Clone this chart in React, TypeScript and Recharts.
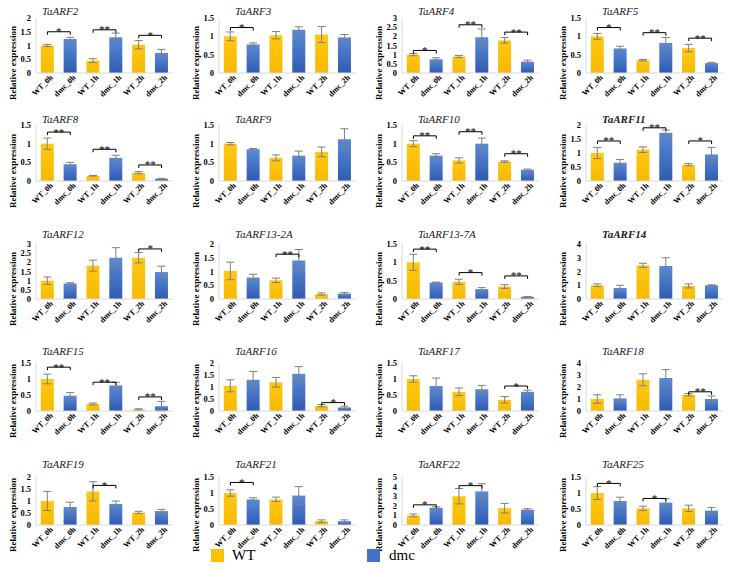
import React from "react";
import { BarChart, Bar, XAxis, YAxis, Cell, ErrorBar, ReferenceLine } from "recharts";

const categories = ["WT_0h", "dmc_0h", "WT_1h", "dmc_1h", "WT_2h", "dmc_2h"];
const seriesNames = ["WT", "dmc"];

const genes = [
  "TaARF2", "TaARF3", "TaARF4", "TaARF5",
  "TaARF8", "TaARF9", "TaARF10", "TaARF11",
  "TaARF12", "TaARF13-2A", "TaARF13-7A", "TaARF14",
  "TaARF15", "TaARF16", "TaARF17", "TaARF18",
  "TaARF19", "TaARF21", "TaARF22", "TaARF25",
];
const boldTitles = ["TaARF11", "TaARF14"];

const yTicks = [
  [0, 0.5, 1, 1.5, 2], [0, 0.5, 1, 1.5], [0, 0.5, 1, 1.5, 2, 2.5, 3], [0, 0.5, 1, 1.5],
  [0, 0.5, 1, 1.5], [0, 0.5, 1, 1.5], [0, 0.5, 1, 1.5], [0, 0.5, 1, 1.5, 2],
  [0, 0.5, 1, 1.5, 2, 2.5, 3], [0, 0.5, 1, 1.5, 2], [0, 0.5, 1, 1.5], [0, 1, 2, 3, 4],
  [0, 0.5, 1, 1.5], [0, 0.5, 1, 1.5, 2], [0, 0.5, 1, 1.5], [0, 1, 2, 3, 4],
  [0, 0.5, 1, 1.5, 2], [0, 0.5, 1, 1.5], [0, 1, 2, 3, 4, 5], [0, 0.5, 1, 1.5],
];

const means = [
  [1.0, 1.24, 0.45, 1.3, 1.03, 0.73],
  [1.0, 0.78, 1.03, 1.18, 1.05, 0.97],
  [1.0, 0.75, 0.9, 1.95, 1.78, 0.62],
  [1.0, 0.67, 0.35, 0.82, 0.68, 0.27],
  [1.0, 0.45, 0.14, 0.62, 0.22, 0.06],
  [1.0, 0.85, 0.62, 0.68, 0.78, 1.12],
  [1.0, 0.68, 0.55, 1.0, 0.52, 0.3],
  [1.0, 0.65, 1.12, 1.72, 0.58, 0.95],
  [1.0, 0.85, 1.82, 2.25, 2.25, 1.47],
  [1.02, 0.78, 0.68, 1.4, 0.18, 0.2],
  [1.0, 0.45, 0.47, 0.27, 0.34, 0.06],
  [1.0, 0.8, 2.45, 2.4, 0.95, 1.0],
  [1.0, 0.48, 0.22, 0.8, 0.05, 0.15],
  [1.05, 1.3, 1.2, 1.55, 0.22, 0.15],
  [1.0, 0.78, 0.6, 0.68, 0.35, 0.6],
  [1.0, 1.05, 2.6, 2.75, 1.35, 1.0],
  [1.0, 0.75, 1.4, 0.88, 0.52, 0.58],
  [1.0, 0.8, 0.8, 0.92, 0.12, 0.12],
  [1.0, 1.8, 3.0, 3.5, 1.75, 1.6],
  [1.0, 0.75, 0.52, 0.7, 0.52, 0.45],
];

const errors = [
  [0.04, 0.06, 0.07, 0.15, 0.15, 0.13],
  [0.12, 0.04, 0.1, 0.08, 0.22, 0.08],
  [0.06, 0.08, 0.06, 0.45, 0.15, 0.08],
  [0.08, 0.06, 0.02, 0.15, 0.1, 0.02],
  [0.15, 0.05, 0.01, 0.07, 0.03, 0.01],
  [0.03, 0.02, 0.08, 0.12, 0.13, 0.28],
  [0.08, 0.05, 0.07, 0.15, 0.02, 0.02],
  [0.2, 0.12, 0.1, 0.1, 0.04, 0.25],
  [0.2, 0.04, 0.3, 0.55, 0.28, 0.32],
  [0.32, 0.12, 0.08, 0.4, 0.04, 0.04],
  [0.22, 0.01, 0.07, 0.04, 0.05, 0.01],
  [0.1, 0.2, 0.15, 0.6, 0.15, 0.03],
  [0.15, 0.1, 0.03, 0.1, 0.02, 0.15],
  [0.25, 0.35, 0.2, 0.3, 0.05, 0.05],
  [0.1, 0.25, 0.12, 0.12, 0.1, 0.05],
  [0.35, 0.3, 0.5, 0.7, 0.1, 0.25],
  [0.4, 0.2, 0.4, 0.12, 0.05, 0.07],
  [0.1, 0.05, 0.07, 0.28, 0.04, 0.04],
  [0.15, 0.1, 0.8, 0.8, 0.5, 0.1],
  [0.2, 0.12, 0.07, 0.12, 0.1, 0.1],
];

// [time point (0h, 1h, 2h), bracket height, marker]
const brackets: [number, number, string][][] = [
  [[0, 1.5, "*"], [1, 1.57, "**"], [2, 1.37, "*"]],
  [[0, 1.24, "*"]],
  [[0, 1.23, "*"], [1, 2.63, "**"], [2, 2.23, "**"]],
  [[0, 1.24, "*"], [1, 1.1, "**"], [2, 0.95, "**"]],
  [[0, 1.31, "**"], [1, 0.85, "**"], [2, 0.43, "**"]],
  [],
  [[0, 1.21, "**"], [1, 1.32, "**"], [2, 0.73, "**"]],
  [[0, 1.43, "**"], [1, 1.9, "**"], [2, 1.43, "*"]],
  [[2, 2.73, "*"]],
  [[1, 1.63, "**"]],
  [[0, 1.36, "**"], [1, 0.72, "*"], [2, 0.63, "**"]],
  [],
  [[0, 1.37, "**"], [1, 0.9, "**"], [2, 0.44, "**"]],
  [[2, 0.35, "*"]],
  [[2, 0.78, "*"]],
  [[2, 1.6, "**"]],
  [[1, 1.65, "*"]],
  [[0, 1.33, "*"]],
  [[0, 2.1, "*"], [1, 4.1, "*"]],
  [[0, 1.3, "*"], [1, 0.83, "*"]],
];

const SERIF = "Liberation Serif, Times New Roman, serif";
const COL_LEFT = [0, 183, 366, 550];
const ROW_TOP = [2, 110, 225, 342, 455];
const ROW_MARGIN_TOP = [16, 15, 19, 21, 22];
const ROW_PLOT_H = [55, 56, 55, 48, 48];
const X_AXIS_H = 30;
const BORDER = "#d9d9d9";

const XTick = ({ x, y, payload }: any) => (
  <g transform={`translate(${x + 4},${y})`}>
    <text
      transform="rotate(-45)"
      textAnchor="end"
      dy="0.35em"
      fontSize={8}
      fontWeight="bold"
      fontFamily={SERIF}
      fill="#000"
    >
      {payload.value}
    </text>
  </g>
);

const YLabel = ({ viewBox }: any) => {
  const cx = viewBox.x + 5;
  const cy = viewBox.y + viewBox.height - 10;
  return (
    <text
      x={cx}
      y={cy}
      transform={`rotate(-90 ${cx} ${cy})`}
      textAnchor="middle"
      dominantBaseline="central"
      fontSize={9}
      fontWeight="bold"
      fontFamily={SERIF}
      fill="#000"
    >
      Relative expression
    </text>
  );
};

const bracketShape = (label: string) => (p: any) => {
  const { x1, y1, x2, y2 } = p;
  return (
    <g>
      <path d={`M${x1},${y1 + 3}V${y1}H${x2}V${y2 + 3}`} stroke="#000" strokeWidth={1} fill="none" />
      <text x={(x1 + x2) / 2} y={y1 + 3.5} textAnchor="middle" fontSize={11} fontFamily={SERIF} fill="#000">
        {label}
      </text>
    </g>
  );
};

function Panel({ g }: { g: number }) {
  const row = Math.floor(g / 4);
  const col = g % 4;
  const ticks = yTicks[g];
  const yMax = ticks[ticks.length - 1];
  const data = categories.map((c, i) => ({ cat: c, v: means[g][i], e: errors[g][i] }));
  const mt = ROW_MARGIN_TOP[row];
  const h = mt + ROW_PLOT_H[row] + X_AXIS_H;
  const gid = `p${g}`;

  return (
    <div style={{ position: "absolute", left: COL_LEFT[col], top: ROW_TOP[row], width: 183, height: h }}>
      <div
        style={{
          position: "absolute",
          left: col === 0 ? 42 : 52,
          top: 3,
          fontFamily: SERIF,
          fontStyle: "italic",
          fontWeight: boldTitles.includes(genes[g]) ? "bold" : "normal",
          fontSize: 11,
          lineHeight: "13px",
          color: "#222",
          whiteSpace: "nowrap",
        }}
      >
        {genes[g]}
      </div>
      <BarChart
        width={183}
        height={h}
        data={data}
        margin={{ top: mt, right: 10, bottom: 0, left: 8 }}
        barCategoryGap="21%"
        style={{ overflow: "visible" }}
      >
        <defs>
          <linearGradient id={`${gid}-WT`} x1="0" y1="0" x2="0" y2="1">
            <stop offset="0%" stopColor="#ffc814" />
            <stop offset="100%" stopColor="#f7b900" />
          </linearGradient>
          <linearGradient id={`${gid}-dmc`} x1="0" y1="0" x2="0" y2="1">
            <stop offset="0%" stopColor="#5a8ad8" />
            <stop offset="100%" stopColor="#2f5bb0" />
          </linearGradient>
        </defs>
        <XAxis
          dataKey="cat"
          height={X_AXIS_H}
          tickSize={0}
          tickMargin={3}
          axisLine={{ stroke: BORDER }}
          tickLine={false}
          tick={<XTick />}
          interval={0}
        />
        <XAxis xAxisId="top" dataKey="cat" orientation="top" height={0} tick={false} tickLine={false} axisLine={{ stroke: BORDER }} />
        <YAxis
          width={28}
          domain={[0, yMax]}
          ticks={ticks}
          interval={0}
          axisLine={{ stroke: BORDER }}
          tickLine={false}
          tickSize={0}
          tickMargin={5}
          tick={{ fontSize: 8.5, fontWeight: "bold", fontFamily: SERIF, fill: "#000" }}
          label={{ content: <YLabel /> }}
        />
        <YAxis yAxisId="right" orientation="right" width={0} domain={[0, yMax]} tick={false} tickLine={false} axisLine={{ stroke: BORDER }} />
        <Bar dataKey="v" isAnimationActive={false}>
          {data.map((d, i) => (
            <Cell key={d.cat} fill={`url(#${gid}-${seriesNames[i % 2]})`} />
          ))}
          <ErrorBar dataKey="e" width={4} stroke="#7f7f7f" strokeWidth={1} direction="y" />
        </Bar>
        {brackets[g].map(([t, y, label]) => (
          <ReferenceLine
            key={t}
            ifOverflow="visible"
            segment={[
              { x: categories[t * 2], y },
              { x: categories[t * 2 + 1], y },
            ]}
            shape={bracketShape(label)}
          />
        ))}
      </BarChart>
    </div>
  );
}

export default function App() {
  return (
    <div style={{ position: "absolute", left: 0, top: 0, width: 733, height: 577, background: "#fff", overflow: "hidden" }}>
      {genes.map((_, g) => (
        <Panel key={g} g={g} />
      ))}
      <div style={{ position: "absolute", left: 211, top: 549, width: 13, height: 13, background: "#ffc000" }} />
      <div style={{ position: "absolute", left: 232, top: 545, fontFamily: SERIF, fontSize: 15, lineHeight: "20px" }}>
        {seriesNames[0]}
      </div>
      <div style={{ position: "absolute", left: 367, top: 549, width: 13, height: 13, background: "#4472c4" }} />
      <div style={{ position: "absolute", left: 389, top: 545, fontFamily: SERIF, fontSize: 15, lineHeight: "20px" }}>
        {seriesNames[1]}
      </div>
    </div>
  );
}
